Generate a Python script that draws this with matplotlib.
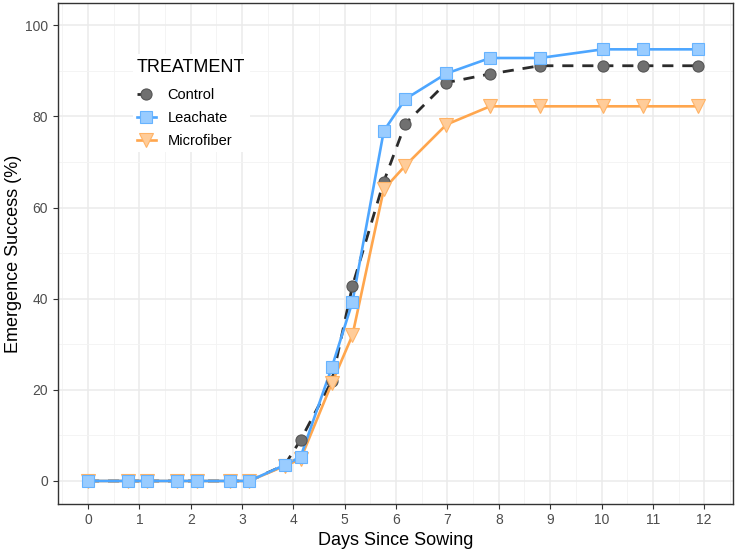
import numpy as np
import matplotlib.pyplot as plt
from matplotlib.ticker import MultipleLocator

plt.rcParams['font.family'] = ['Liberation Sans', 'DejaVu Sans']

# days since sowing (observation times)
days = [0, 0.77, 1.15, 1.74, 2.13, 2.76, 3.14, 3.83, 4.14, 4.75, 5.15,
        5.76, 6.18, 6.98, 7.83, 8.8, 10.02, 10.8, 11.87]

# emergence success (%)
control = [0, 0, 0, 0, 0, 0, 0, 3.5, 9.0, 22.0, 42.8,
           65.7, 78.4, 87.4, 89.3, 91.1, 91.1, 91.1, 91.1]
leachate = [0, 0, 0, 0, 0, 0, 0, 3.5, 5.3, 25.0, 39.3,
            76.8, 83.8, 89.4, 92.8, 92.8, 94.7, 94.7, 94.7]
microfiber = [0, 0, 0, 0, 0, 0, 0, 3.3, 4.8, 21.5, 32.0,
              64.0, 69.2, 78.2, 82.2, 82.2, 82.2, 82.2, 82.2]

fig = plt.figure(figsize=(7.4, 5.51), dpi=100)
ax = fig.add_axes([0.078, 0.0858, 0.9125, 0.9082])

dash = (0, (4, 3.2))
# lines first
ax.plot(days, control, color='#2b2b2b', lw=2.0, ls=dash, zorder=2)
ax.plot(days, microfiber, color='#FFA64D', lw=1.9, zorder=2)
ax.plot(days, leachate, color='#4DA6FF', lw=1.9, zorder=2)

# then points
ax.plot(days, control, ls='none', marker='o', ms=8, mfc='#707070',
        mec='#555555', mew=0.8, zorder=3)
ax.plot(days, microfiber, ls='none', marker='v', ms=9.5, mfc='#FFCC99',
        mec='#FFB366', mew=0.8, zorder=3)
ax.plot(days, leachate, ls='none', marker='s', ms=8, mfc='#99CCFF',
        mec='#66B3FF', mew=0.8, zorder=3)

# legend handles
h1, = ax.plot([], [], color='#2b2b2b', lw=2.0, ls=dash, marker='o',
              ms=8, mfc='#707070', mec='#555555', mew=0.8)
h2, = ax.plot([], [], color='#4DA6FF', lw=1.9, marker='s', ms=8,
              mfc='#99CCFF', mec='#66B3FF', mew=0.8)
h3, = ax.plot([], [], color='#FFA64D', lw=1.9, marker='v', ms=9.5,
              mfc='#FFCC99', mec='#FFB366', mew=0.8)
leg = ax.legend([h1, h2, h3], ['Control', 'Leachate', 'Microfiber'],
                title='TREATMENT', loc='upper left', bbox_to_anchor=(0.1, 0.913),
                frameon=True, fancybox=False, edgecolor='none', framealpha=1,
                fontsize=10.5, title_fontsize=13, handlelength=1.3,
                handletextpad=0.8, labelspacing=0.6, borderpad=0.3)
leg._legend_box.align = 'left'
leg._legend_box.sep = 9.3  # extra room under the title

ax.set_xlim(-0.59, 12.56)
ax.set_ylim(-4.99, 104.8)
ax.xaxis.set_major_locator(MultipleLocator(1))
ax.xaxis.set_minor_locator(MultipleLocator(0.5))
ax.yaxis.set_major_locator(MultipleLocator(20))
ax.yaxis.set_minor_locator(MultipleLocator(10))
ax.grid(which='major', color='#EBEBEB', lw=1.1, zorder=0)
ax.grid(which='minor', color='#F3F3F3', lw=0.6, zorder=0)
ax.set_axisbelow(True)
ax.tick_params(which='minor', length=0)
ax.tick_params(which='major', length=3.5, color='#333333', labelsize=10,
               labelcolor='#4D4D4D', width=0.8, pad=3.5)
for s in ax.spines.values():
    s.set_color('#333333')
    s.set_linewidth(1.0)

ax.set_xlabel('Days Since Sowing', fontsize=13, color='black', labelpad=3)
ax.set_ylabel('Emergence Success (%)', fontsize=13, color='black', labelpad=2)

fig.savefig('out.png', dpi=100)
